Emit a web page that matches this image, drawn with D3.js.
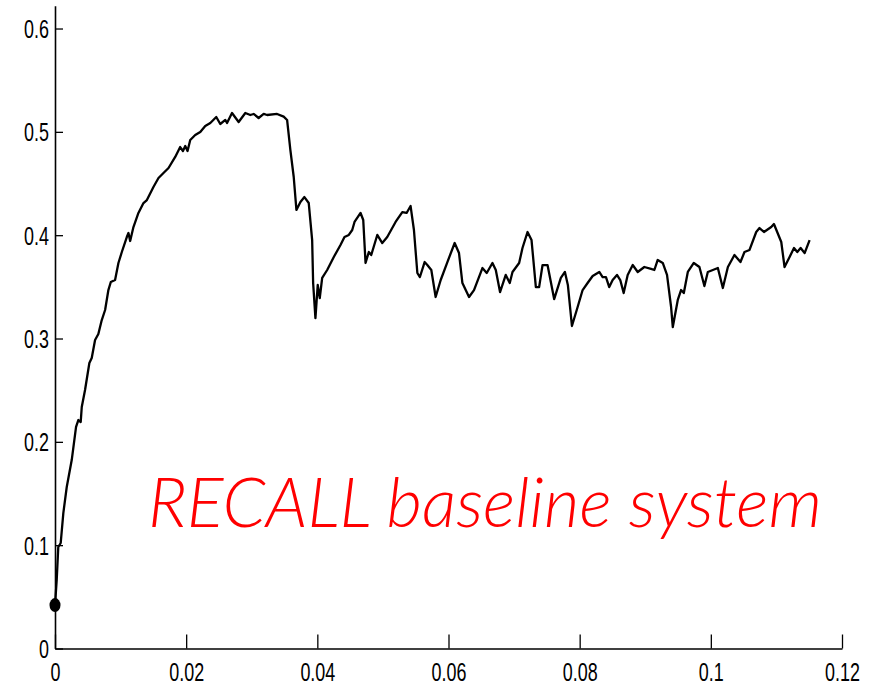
<!DOCTYPE html>
<html>
<head>
<meta charset="utf-8">
<script src="https://cdn.jsdelivr.net/npm/d3@7"></script>
<style>
  html, body { margin: 0; padding: 0; background: #fff; }
  svg { display: block; }
</style>
</head>
<body>
<svg id="chart" width="870" height="686"></svg>
<script>
// Recall curve of the baseline system over normalised time
const xValues = [
  0, 0.00026, 0.00050, 0.00087, 0.00127, 0.00179, 0.00255, 0.00321, 0.00356, 0.00392,
  0.00408, 0.00458, 0.00524, 0.00560, 0.00611, 0.00661, 0.00713, 0.00764, 0.00814, 0.00851,
  0.00916, 0.00967, 0.01019, 0.01095, 0.01120, 0.01146, 0.01196, 0.01272, 0.01349, 0.01401,
  0.01501, 0.01578, 0.01654, 0.01731, 0.01833, 0.01909, 0.01951, 0.01986, 0.02021, 0.02062,
  0.02138, 0.02215, 0.02291, 0.02368, 0.02459, 0.02520, 0.02597, 0.02623, 0.02699, 0.02800,
  0.02902, 0.02978, 0.03029, 0.03105, 0.03182, 0.03234, 0.03386, 0.03487, 0.03539, 0.03589,
  0.03640, 0.03681, 0.03742, 0.03803, 0.03869, 0.03921, 0.03936, 0.03971, 0.04006, 0.04037,
  0.04074, 0.04150, 0.04251, 0.04353, 0.04414, 0.04480, 0.04532, 0.04567, 0.04659, 0.04700,
  0.04735, 0.04785, 0.04822, 0.04914, 0.04990, 0.05066, 0.05193, 0.05296, 0.05361, 0.05422,
  0.05473, 0.05525, 0.05564, 0.05636, 0.05677, 0.05738, 0.05804, 0.05881, 0.05983, 0.06094,
  0.06160, 0.06212, 0.06313, 0.06389, 0.06517, 0.06583, 0.06670, 0.06721, 0.06786, 0.06873,
  0.06934, 0.06976, 0.07077, 0.07128, 0.07205, 0.07266, 0.07332, 0.07382, 0.07434, 0.07510,
  0.07611, 0.07713, 0.07775, 0.07820, 0.07882, 0.07969, 0.08045, 0.08121, 0.08198, 0.08299,
  0.08350, 0.08401, 0.08451, 0.08503, 0.08569, 0.08619, 0.08671, 0.08732, 0.08809, 0.08885,
  0.08986, 0.09088, 0.09139, 0.09190, 0.09267, 0.09332, 0.09394, 0.09420, 0.09496, 0.09546,
  0.09588, 0.09649, 0.09740, 0.09826, 0.09902, 0.09954, 0.10031, 0.10107, 0.10183, 0.10260,
  0.10360, 0.10452, 0.10513, 0.10590, 0.10692, 0.10742, 0.10810, 0.10921, 0.10962, 0.11074,
  0.11124, 0.11201, 0.11268, 0.11318, 0.11369, 0.11430, 0.11506
];
const recallValues = [
  0.0420, 0.0663, 0.0982, 0.1021, 0.1311, 0.1563, 0.1824, 0.2144, 0.2211, 0.2192,
  0.2337, 0.2502, 0.2763, 0.2811, 0.2986, 0.3044, 0.3179, 0.3276, 0.3469, 0.3547,
  0.3566, 0.3731, 0.3837, 0.3982, 0.4021, 0.3944, 0.4079, 0.4215, 0.4311, 0.4340,
  0.4466, 0.4553, 0.4602, 0.4650, 0.4757, 0.4853, 0.4815, 0.4863, 0.4815, 0.4921,
  0.4969, 0.4999, 0.5057, 0.5086, 0.5144, 0.5076, 0.5115, 0.5086, 0.5182, 0.5095,
  0.5182, 0.5163, 0.5173, 0.5134, 0.5173, 0.5163, 0.5173, 0.5147, 0.5115, 0.4824,
  0.4563, 0.4244, 0.4321, 0.4369, 0.4311, 0.3953, 0.3537, 0.3198, 0.3518, 0.3392,
  0.3586, 0.3663, 0.3789, 0.3905, 0.3982, 0.4002, 0.4050, 0.4128, 0.4215, 0.4147,
  0.3731, 0.3837, 0.3808, 0.4002, 0.3924, 0.3982, 0.4128, 0.4224, 0.4215, 0.4282,
  0.4050, 0.3634, 0.3595, 0.3740, 0.3711, 0.3663, 0.3402, 0.3566, 0.3740, 0.3924,
  0.3827, 0.3537, 0.3402, 0.3469, 0.3682, 0.3634, 0.3731, 0.3663, 0.3450, 0.3615,
  0.3537, 0.3644, 0.3731, 0.3876, 0.4031, 0.3953, 0.3498, 0.3498, 0.3711, 0.3711,
  0.3382, 0.3586, 0.3644, 0.3518, 0.3121, 0.3305, 0.3469, 0.3537, 0.3605, 0.3644,
  0.3595, 0.3595, 0.3498, 0.3566, 0.3615, 0.3566, 0.3440, 0.3615, 0.3711, 0.3644,
  0.3692, 0.3673, 0.3663, 0.3760, 0.3731, 0.3615, 0.3305, 0.3111, 0.3373, 0.3469,
  0.3440, 0.3644, 0.3731, 0.3692, 0.3508, 0.3644, 0.3663, 0.3682, 0.3489, 0.3692,
  0.3808, 0.3740, 0.3837, 0.3857, 0.4031, 0.4069, 0.4031, 0.4079, 0.4108, 0.3934,
  0.3692, 0.3789, 0.3876, 0.3837, 0.3876, 0.3827, 0.3953
];
const startPoint = [0, 0.042];
const xTicks = [0, 0.02, 0.04, 0.06, 0.08, 0.1, 0.12];
const yTicks = [0, 0.1, 0.2, 0.3, 0.4, 0.5, 0.6];
const xMax = 0.12;
const yMax = 0.622;
const titleText = "RECALL baseline system";

const svg = d3.select("#chart");
const left = 55, right = 842, bottom = 648.5;
const pxPerUnitY = 1033.3;

const x = d3.scaleLinear().domain([0, xMax]).range([left, right]);
const y = d3.scaleLinear().domain([0, yMax]).range([bottom, bottom - yMax * pxPerUnitY]);

const fmt = d => String(+(+d).toFixed(2));

// X axis with inward ticks
const gx = svg.append("g")
  .attr("transform", `translate(0,${bottom})`)
  .call(d3.axisBottom(x).tickValues(xTicks).tickSize(-14).tickSizeOuter(0).tickFormat(fmt));
gx.select(".domain").attr("stroke", "#000").attr("stroke-width", 1.6);
gx.selectAll(".tick line").attr("stroke", "#000").attr("stroke-width", 1.3);
gx.selectAll(".tick text").remove();
gx.selectAll(".tick").append("text")
  .attr("fill", "#000")
  .attr("font-family", "'Liberation Sans', Arial, sans-serif")
  .attr("font-size", 26)
  .attr("text-anchor", "middle")
  .attr("transform", "translate(0,32) scale(0.69,1)")
  .text(d => fmt(d));

// Y axis with inward ticks
const gy = svg.append("g")
  .attr("transform", `translate(${left},0)`)
  .call(d3.axisLeft(y).tickValues(yTicks).tickSize(-8).tickSizeOuter(0).tickFormat(fmt));
gy.select(".domain").attr("stroke", "#000").attr("stroke-width", 1.6);
gy.selectAll(".tick line").attr("stroke", "#000").attr("stroke-width", 1.3);
gy.selectAll(".tick text").remove();
gy.selectAll(".tick").append("text")
  .attr("fill", "#000")
  .attr("font-family", "'Liberation Sans', Arial, sans-serif")
  .attr("font-size", 26)
  .attr("text-anchor", "end")
  .attr("transform", "translate(-6,9) scale(0.69,1)")
  .text(d => fmt(d));

// Recall curve
const points = xValues.map((v, i) => [v, recallValues[i]]);
const line = d3.line().x(d => x(d[0])).y(d => y(d[1]));
svg.append("path")
  .datum(points)
  .attr("fill", "none")
  .attr("stroke", "#000")
  .attr("stroke-width", 2.3)
  .attr("stroke-linejoin", "round")
  .attr("d", line);

// Starting marker
svg.append("ellipse")
  .attr("cx", x(startPoint[0]))
  .attr("cy", y(startPoint[1]))
  .attr("rx", 5.5)
  .attr("ry", 7)
  .attr("fill", "#000");

// Title label inside the plot area
const title = svg.append("text")
  .attr("x", 148)
  .attr("y", 527)
  .attr("fill", "#ff0000")
  .attr("font-family", "Lato, 'Open Sans', sans-serif")
  .attr("font-style", "italic")
  .attr("font-weight", 300)
  .attr("font-size", 60)
  .text(titleText);
const targetWidth = 674;
const w = title.node().getComputedTextLength();
title.attr("font-size", 60 * targetWidth / w);
</script>
</body>
</html>
